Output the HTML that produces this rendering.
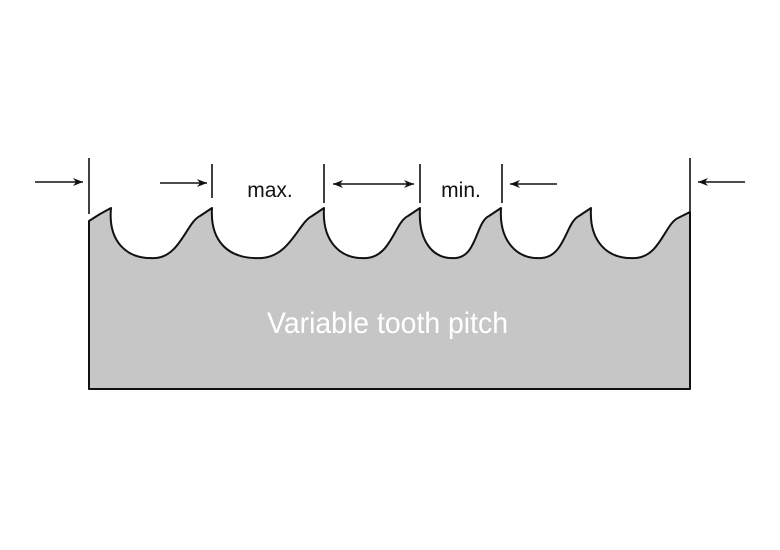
<!DOCTYPE html>
<html><head><meta charset="utf-8"><style>html,body{margin:0;padding:0;background:#fff;}svg{display:block}</style></head>
<body>
<svg width="780" height="550" viewBox="0 0 780 550" xmlns="http://www.w3.org/2000/svg">
<defs>
<marker id="ah" viewBox="0 0 10 10" refX="10" refY="5" markerWidth="10" markerHeight="10" markerUnits="userSpaceOnUse" orient="auto-start-reverse">
<path d="M0,1 L10,5 L0,9 L3,5 Z" fill="#111"/>
</marker>
</defs>
<path d="M89,389 L89,221 L100,214 L111,208
C108,240 125,260 156,258 C180,256 187,222 200,216 L212,208
C210,240 227,260 262,258 C290,256 299,222 312,216 L324,208
C322,240 339,260 367,258 C391,256 395,222 408,216 L420,208
C418,240 432,260 456,258 C477,256 476,222 489,216 L501,208
C499,240 516,260 542,258 C565,256 566,222 579,216 L591,208
C589,240 606,260 636,258 C660,256 665,224 678,218 L690,212
L690,389 Z" fill="#c6c6c6" stroke="#111" stroke-width="2" stroke-linejoin="round"/>
<g stroke="#111" stroke-width="1.6">
<line x1="89" y1="158" x2="89" y2="214"/>
<line x1="212" y1="164" x2="212" y2="198"/>
<line x1="324" y1="164" x2="324" y2="203"/>
<line x1="420" y1="164" x2="420" y2="203"/>
<line x1="502" y1="164" x2="502" y2="203"/>
<line x1="690" y1="158" x2="690" y2="212"/>
<line x1="35" y1="182" x2="83" y2="182" marker-end="url(#ah)"/>
<line x1="160" y1="183" x2="207" y2="183" marker-end="url(#ah)"/>
<line x1="333" y1="184" x2="414" y2="184" marker-start="url(#ah)" marker-end="url(#ah)"/>
<line x1="557" y1="184" x2="510" y2="184" marker-end="url(#ah)"/>
<line x1="745" y1="182" x2="698" y2="182" marker-end="url(#ah)"/>
</g>
<text x="270" y="197" font-family="Liberation Sans, sans-serif" font-size="21" text-anchor="middle" fill="#111">max.</text>
<text x="461" y="197" font-family="Liberation Sans, sans-serif" font-size="21" text-anchor="middle" fill="#111">min.</text>
<text x="267" y="333" font-family="Liberation Sans, sans-serif" font-size="30" fill="#fff" textLength="241" lengthAdjust="spacingAndGlyphs">Variable tooth pitch</text>
</svg>
</body></html>
